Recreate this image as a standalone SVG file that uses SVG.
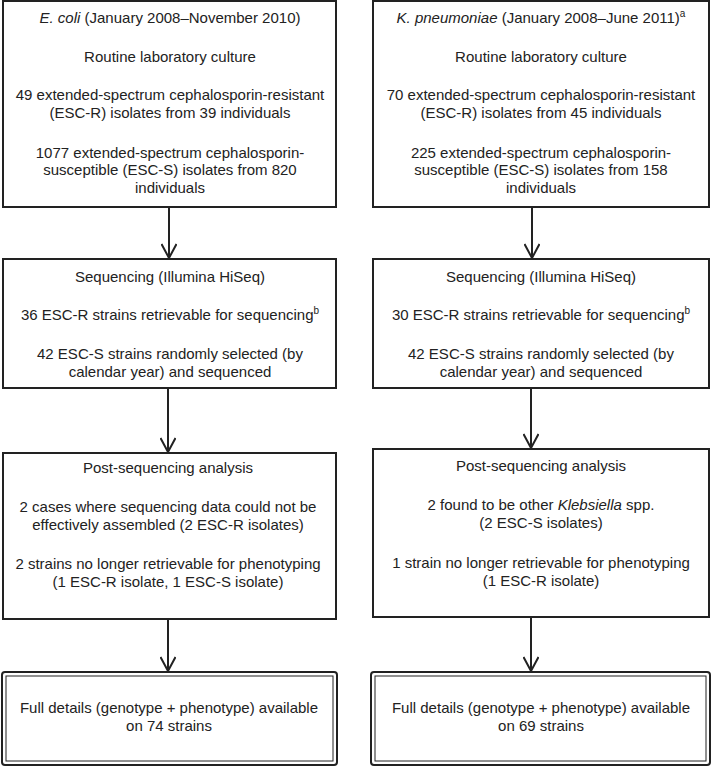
<svg xmlns="http://www.w3.org/2000/svg" width="712" height="766" viewBox="0 0 712 766">
<defs>
<style>
.box{fill:#fff;stroke:#222;stroke-width:2}
.inner{fill:none;stroke:#222;stroke-width:1}
.t{font-family:"Liberation Sans",Arial,sans-serif;font-size:15px;fill:#222;text-anchor:middle}
.i{font-style:italic}
.sup{font-size:10px}
.conn{stroke:#222;stroke-width:2;fill:none}
</style>
<marker id="arr" viewBox="0 0 16 16" refX="15" refY="8" markerWidth="16" markerHeight="16" markerUnits="userSpaceOnUse" orient="auto">
<path d="M1,0.5 L15,8 L1,15.5" fill="none" stroke="#222" stroke-width="2"/>
</marker>
</defs>
<rect width="712" height="766" fill="#fff"/>

<g id="connectors">
<line class="conn" x1="169" y1="207" x2="169" y2="258" marker-end="url(#arr)"/>
<line class="conn" x1="168" y1="388" x2="168" y2="452" marker-end="url(#arr)"/>
<line class="conn" x1="168" y1="619" x2="168" y2="671" marker-end="url(#arr)"/>
<line class="conn" x1="532" y1="207" x2="532" y2="258" marker-end="url(#arr)"/>
<line class="conn" x1="531" y1="388" x2="531" y2="448" marker-end="url(#arr)"/>
<line class="conn" x1="531" y1="617" x2="531" y2="671" marker-end="url(#arr)"/>
</g>

<g id="ecoli-culture">
<rect class="box" x="3" y="1" width="333" height="206"/>
<text class="t" x="170" y="23"><tspan class="i">E. coli</tspan> (January 2008–November 2010)</text>
<text class="t" x="170" y="62">Routine laboratory culture</text>
<text class="t" x="170" y="100">49 extended-spectrum cephalosporin-resistant</text>
<text class="t" x="170" y="118">(ESC-R) isolates from 39 individuals</text>
<text class="t" x="170" y="158">1077 extended-spectrum cephalosporin-</text>
<text class="t" x="170" y="175">susceptible (ESC-S) isolates from 820</text>
<text class="t" x="170" y="193">individuals</text>
</g>

<g id="kpn-culture">
<rect class="box" x="373" y="1" width="336" height="206"/>
<text class="t" x="541" y="23"><tspan class="i">K. pneumoniae</tspan> (January 2008–June 2011)<tspan class="sup" dy="-6">a</tspan></text>
<text class="t" x="541" y="62">Routine laboratory culture</text>
<text class="t" x="541" y="100">70 extended-spectrum cephalosporin-resistant</text>
<text class="t" x="541" y="118">(ESC-R) isolates from 45 individuals</text>
<text class="t" x="541" y="158">225 extended-spectrum cephalosporin-</text>
<text class="t" x="541" y="175">susceptible (ESC-S) isolates from 158</text>
<text class="t" x="541" y="193">individuals</text>
</g>

<g id="ecoli-sequencing">
<rect class="box" x="3" y="259" width="333" height="129"/>
<text class="t" x="170" y="282">Sequencing (Illumina HiSeq)</text>
<text class="t" x="170" y="320">36 ESC-R strains retrievable for sequencing<tspan class="sup" dy="-6">b</tspan></text>
<text class="t" x="170" y="359">42 ESC-S strains randomly selected (by</text>
<text class="t" x="170" y="377">calendar year) and sequenced</text>
</g>

<g id="kpn-sequencing">
<rect class="box" x="373" y="259" width="336" height="129"/>
<text class="t" x="541" y="282">Sequencing (Illumina HiSeq)</text>
<text class="t" x="541" y="320">30 ESC-R strains retrievable for sequencing<tspan class="sup" dy="-6">b</tspan></text>
<text class="t" x="541" y="359">42 ESC-S strains randomly selected (by</text>
<text class="t" x="541" y="377">calendar year) and sequenced</text>
</g>

<g id="ecoli-post">
<rect class="box" x="3" y="453" width="333" height="166"/>
<text class="t" x="168" y="473">Post-sequencing analysis</text>
<text class="t" x="168" y="512">2 cases where sequencing data could not be</text>
<text class="t" x="168" y="530">effectively assembled (2 ESC-R isolates)</text>
<text class="t" x="168" y="569">2 strains no longer retrievable for phenotyping</text>
<text class="t" x="168" y="587">(1 ESC-R isolate, 1 ESC-S isolate)</text>
</g>

<g id="kpn-post">
<rect class="box" x="373" y="449" width="336" height="168"/>
<text class="t" x="541" y="471">Post-sequencing analysis</text>
<text class="t" x="541" y="510">2 found to be other <tspan class="i">Klebsiella</tspan> spp.</text>
<text class="t" x="541" y="528">(2 ESC-S isolates)</text>
<text class="t" x="541" y="568">1 strain no longer retrievable for phenotyping</text>
<text class="t" x="541" y="586">(1 ESC-R isolate)</text>
</g>

<g id="ecoli-full">
<rect class="box" x="2" y="672" width="335" height="93" rx="3"/>
<rect class="inner" x="6" y="676" width="327" height="85"/>
<text class="t" x="169" y="713">Full details (genotype + phenotype) available</text>
<text class="t" x="169" y="731">on 74 strains</text>
</g>

<g id="kpn-full">
<rect class="box" x="371" y="672" width="339" height="93" rx="3"/>
<rect class="inner" x="375" y="676" width="331" height="85"/>
<text class="t" x="541" y="713">Full details (genotype + phenotype) available</text>
<text class="t" x="541" y="731">on 69 strains</text>
</g>
</svg>
